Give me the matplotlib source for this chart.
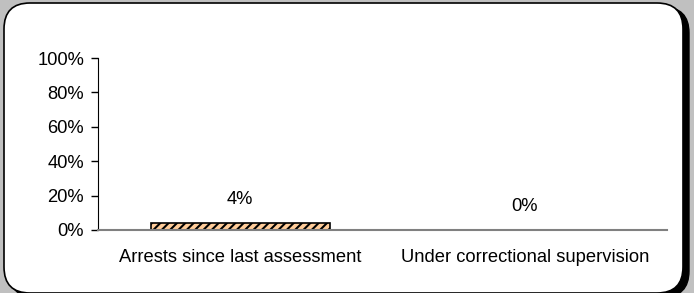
import matplotlib
matplotlib.use('Agg')
import matplotlib.pyplot as plt
from matplotlib.patches import FancyBboxPatch
import numpy as np

categories = ['Arrests since last assessment', 'Under correctional supervision']
values = [4, 0]
value_labels = ['4%', '0%']
yticks = [0, 20, 40, 60, 80, 100]

plt.rcParams['font.family'] = ['Liberation Sans', 'DejaVu Sans']
plt.rcParams['hatch.linewidth'] = 1.5

W, H = 694, 293
fig = plt.figure(figsize=(W / 100, H / 100), dpi=100)
fig.patch.set_facecolor('#c0c0c0')

# rounded frame with a dark shadow on right/bottom
r = 26
shadow = FancyBboxPatch((9, -4), 680, 290, boxstyle=f'round,pad=0,rounding_size={r}',
                        transform=None, facecolor='black', edgecolor='black', zorder=0)
frame = FancyBboxPatch((4, 0), 679, 290, boxstyle=f'round,pad=0,rounding_size={r}',
                       transform=None, facecolor='white', edgecolor='black', linewidth=1.2, zorder=1)
fig.patches.extend([shadow, frame])

ax = fig.add_axes([98 / W, (H - 230) / H, (667 - 98) / W, (230 - 58) / H])
ax.set_facecolor('none')
ax.set_zorder(2)

x = np.arange(len(categories))
ax.bar(x, values, width=0.63, color='#ffcc99', edgecolor='black', hatch='////', linewidth=1.2)
for xi, v, lab in zip(x, values, value_labels):
    ax.annotate(lab, (xi, v), xytext=(0, 11), textcoords='offset points',
                ha='center', va='bottom', fontsize=13.2)

ax.set_xlim(-0.5, 1.5)
ax.set_ylim(0, 100)
ax.set_yticks(yticks)
ax.set_yticklabels([f'{t}%' for t in yticks], fontsize=13.2)
ax.set_xticks(x)
ax.set_xticklabels(categories, fontsize=13.2)
ax.tick_params(axis='x', length=0, pad=14)
ax.tick_params(axis='y', direction='out', length=5, width=1, pad=5)
for s in ['top', 'right']:
    ax.spines[s].set_visible(False)
ax.spines['left'].set_color('black')
ax.spines['bottom'].set_color('#808080')
ax.spines['bottom'].set_linewidth(1.5)

fig.savefig('out.png', dpi=100)
